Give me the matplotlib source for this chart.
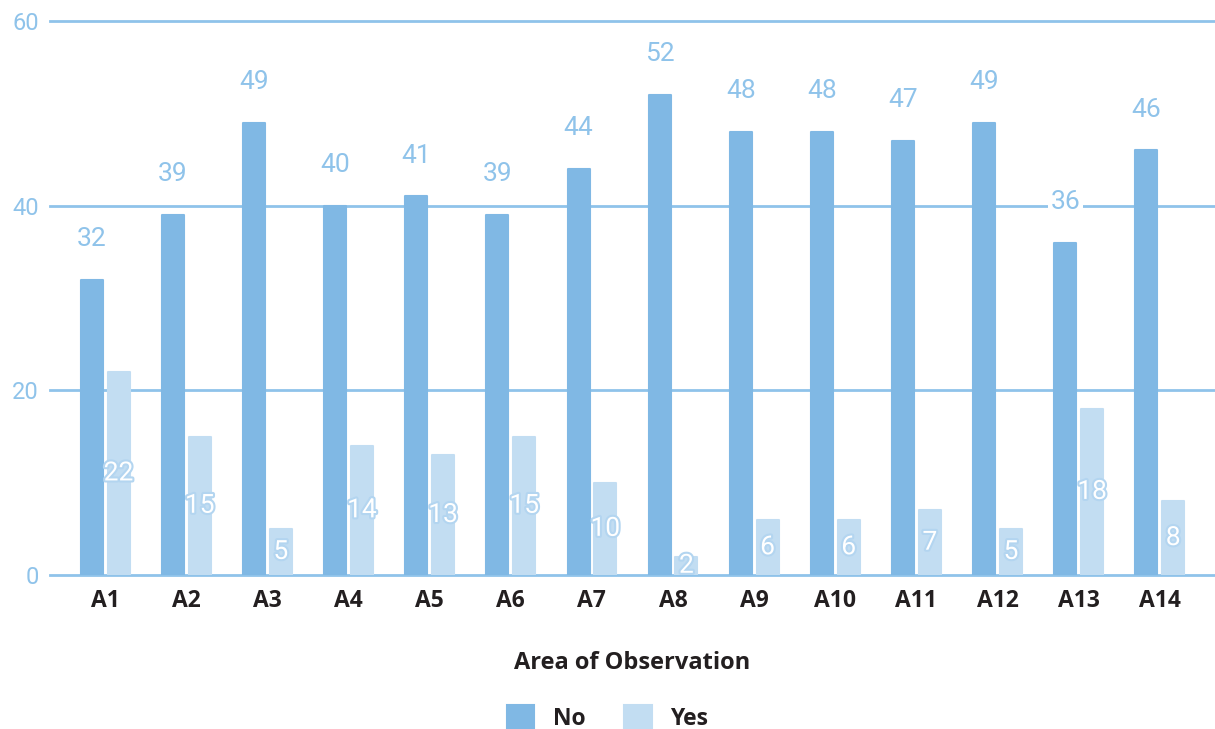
import matplotlib
matplotlib.use("Agg")
import numpy as np
from matplotlib import pyplot as plt
from matplotlib import patheffects as pe

areas = ["A1", "A2", "A3", "A4", "A5", "A6", "A7",
         "A8", "A9", "A10", "A11", "A12", "A13", "A14"]
no_counts = [32, 39, 49, 40, 41, 39, 44, 52, 48, 48, 47, 49, 36, 46]
yes_counts = [22, 15, 5, 14, 13, 15, 10, 2, 6, 6, 7, 5, 18, 8]
y_ticks = [0, 20, 40, 60]

NO_COLOR = "#80b8e4"
YES_COLOR = "#c2ddf2"
GRID_COLOR = "#8fc3ea"
LABEL_COLOR = "#8fc3ea"
DARK = "#231f20"
BOLD_FONT = "Open Sans"

fig = plt.figure(figsize=(12.15, 7.29), dpi=100)
ax = fig.add_axes([50 / 1215, 1 - 575 / 729, 1 - 50 / 1215, (575 - 21) / 729])

x = np.arange(len(areas))
w = 0.27
off = 0.165

bars_no = ax.bar(x - off, no_counts, w, color=NO_COLOR, edgecolor=NO_COLOR,
                 linewidth=1.5, joinstyle="round", zorder=3)
bars_yes = ax.bar(x + off, yes_counts, w, color=YES_COLOR, edgecolor=YES_COLOR,
                  linewidth=1.5, joinstyle="round", zorder=3)

# value labels: "No" above the bar, "Yes" in the middle of the bar
for b, v in zip(bars_no, no_counts):
    ax.text(b.get_x() + b.get_width() / 2, v + 4.4, str(v), ha="center",
            va="center", fontsize=19, color=LABEL_COLOR, family="Roboto",
            zorder=5,
            bbox=dict(boxstyle="square,pad=0.1", fc="white", ec="none"))
for b, v in zip(bars_yes, yes_counts):
    ax.text(b.get_x() + b.get_width() / 2, v / 2, str(v), ha="center",
            va="center", fontsize=19, color="white", family="Roboto",
            zorder=6,
            path_effects=[pe.withStroke(linewidth=3, foreground="#b3d5f0")])

ax.set_ylim(0, 60)
ax.set_xlim(-0.68, len(areas) - 1 + 0.68)
ax.set_yticks(y_ticks)
ax.set_yticklabels([str(t) for t in y_ticks], family="Roboto", fontsize=17,
                   color=LABEL_COLOR)
ax.set_xticks(x)
ax.set_xticklabels(areas, fontsize=16.5, fontweight="bold", family=BOLD_FONT,
                   color=DARK)
ax.tick_params(axis="y", length=0, pad=8)
ax.tick_params(axis="x", length=0, pad=10)

for t in y_ticks:
    ax.axhline(t, color=GRID_COLOR, linewidth=2, zorder=1, clip_on=False)
for s in ax.spines.values():
    s.set_visible(False)

# axis title centred under the plotting area
ax.text(0.5, 1 - 663 / 729, "Area of Observation", ha="center", va="center",
        fontsize=17, fontweight="bold", family=BOLD_FONT, color=DARK,
        transform=matplotlib.transforms.blended_transform_factory(
            ax.transAxes, fig.transFigure))

leg = fig.legend([bars_no, bars_yes], ["No", "Yes"], loc="center",
                 bbox_to_anchor=(0.5, 1 - 718 / 729), ncol=2, frameon=False,
                 handlelength=1.2, handleheight=1.2, handletextpad=0.8,
                 columnspacing=1.7,
                 prop=dict(family=BOLD_FONT, weight="bold", size=16.5))
for t in leg.get_texts():
    t.set_color(DARK)

fig.savefig("out.png", dpi=100)
